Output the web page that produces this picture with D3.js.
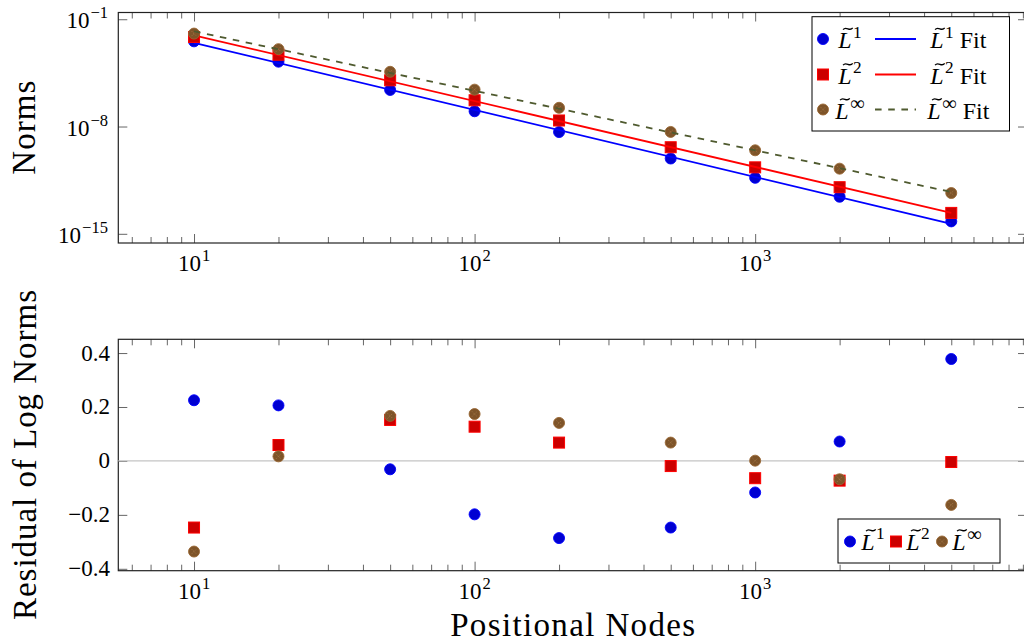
<!DOCTYPE html>
<html>
<head>
<meta charset="utf-8">
<script src="https://cdn.jsdelivr.net/npm/d3@7"></script>
<style>
  body { margin: 0; background: #fff; }
  svg, text, tspan { font-family: "Liberation Serif", "DejaVu Serif", serif; }
  text { fill: #000; }
</style>
</head>
<body>
<svg id="chart" width="1024" height="644" font-family="Liberation Serif, DejaVu Serif, serif"></svg>
<script>
// Number of positional nodes
const nodes = [10, 20, 50, 100, 200, 500, 1000, 2000, 5000];

// Error norms
const normL1   = [3.61e-3, 1.70e-4, 2.43e-6, 9.91e-8, 4.37e-9, 8.18e-11, 4.51e-12, 2.62e-13, 6.46e-15];
const normL2   = [6.97e-3, 4.82e-4, 1.04e-5, 5.16e-7, 2.48e-8, 4.45e-10, 2.17e-11, 1.10e-12, 2.31e-14];
const normLinf = [1.16e-2, 1.12e-3, 3.72e-5, 2.55e-6, 1.67e-7, 4.43e-9, 2.81e-10, 1.78e-11, 4.59e-13];

// Power-law fits: log10(norm) = intercept + slope * log10(N)   (L1, L2, Linf)
const fitSlopes     = [-4.377, -4.292, -3.882];
const fitIntercepts = [1.836, 2.241, 2.094];

// Residuals of the log norms about each fit
const residL1   = [0.225, 0.206, -0.031, -0.198, -0.286, -0.247, -0.117, 0.072, 0.378];
const residL2   = [-0.247, 0.059, 0.152, 0.127, 0.068, -0.019, -0.064, -0.073, -0.004];
const residLinf = [-0.336, 0.017, 0.167, 0.174, 0.141, 0.068, 0.001, -0.068, -0.163];

// Ticks
const xMajorTicks = [10, 100, 1000];
const xMinorTicks = [6, 7, 8, 9, 20, 30, 40, 50, 60, 70, 80, 90,
                     200, 300, 400, 500, 600, 700, 800, 900,
                     2000, 3000, 4000, 5000, 6000, 7000, 8000, 9000];
const xTickExponents = ["1", "2", "3"];
const normTicks = [1e-1, 1e-8, 1e-15];
const normTickExponents = ["\u22121", "\u22128", "\u221215"];
const residTicks = [-0.4, -0.2, 0, 0.2, 0.4];
const residTickLabels = ["\u22120.4", "\u22120.2", "0", "0.2", "0.4"];

const seriesSup = ["1", "2", "\u221E"];

// Styles
const markFill   = ["#0000d2", "#cc0000", "#7e5429"];
const markStroke = ["#0000ff", "#ff0000", "#996633"];
const fitColor   = ["#0000ff", "#ff0000", "#4f5a2f"];

const svg = d3.select("#chart");

const xLeft = 118.3, xRight = 1027;
const x = d3.scaleLog()
  .domain([Math.pow(10, 0.7301), Math.pow(10, 3.9689)])
  .range([xLeft, xRight]);

const topPanel = { top: 12.5, bottom: 243 };
const botPanel = { top: 339.3, bottom: 570.7 };

const yNorm = d3.scaleLog()
  .domain([Math.pow(10, -15.6), Math.pow(10, -0.56)])
  .range([topPanel.bottom, topPanel.top]);

const yRes = d3.scaleLinear()
  .domain([-0.407, 0.451])
  .range([botPanel.bottom, botPanel.top]);

const TICK_FS = 23;
const LEG_FS = 24;
const tickColor = "#555";

function styleTicks(sel) {
  sel.select(".domain").remove();
  sel.selectAll(".tick line").attr("stroke", tickColor).attr("stroke-width", 0.9);
  sel.selectAll(".tick text").remove();
}

function drawAxes(panel, yScale, yTickVals) {
  const g = svg.append("g");
  // x ticks, bottom and top, pointing inward
  g.append("g").attr("transform", `translate(0,${panel.bottom})`)
    .call(d3.axisBottom(x).tickValues(xMajorTicks).tickSize(-9).tickSizeOuter(0).tickFormat(""))
    .call(styleTicks);
  g.append("g").attr("transform", `translate(0,${panel.bottom})`)
    .call(d3.axisBottom(x).tickValues(xMinorTicks).tickSize(-6).tickSizeOuter(0).tickFormat(""))
    .call(styleTicks);
  g.append("g").attr("transform", `translate(0,${panel.top})`)
    .call(d3.axisTop(x).tickValues(xMajorTicks).tickSize(-9).tickSizeOuter(0).tickFormat(""))
    .call(styleTicks);
  g.append("g").attr("transform", `translate(0,${panel.top})`)
    .call(d3.axisTop(x).tickValues(xMinorTicks).tickSize(-6).tickSizeOuter(0).tickFormat(""))
    .call(styleTicks);
  // y ticks, left and right
  g.append("g").attr("transform", `translate(${xLeft},0)`)
    .call(d3.axisLeft(yScale).tickValues(yTickVals).tickSize(-9).tickSizeOuter(0).tickFormat(""))
    .call(styleTicks);
  g.append("g").attr("transform", `translate(${xRight},0)`)
    .call(d3.axisRight(yScale).tickValues(yTickVals).tickSize(-9).tickSizeOuter(0).tickFormat(""))
    .call(styleTicks);
  // frame
  g.append("rect")
    .attr("x", xLeft).attr("y", panel.top)
    .attr("width", xRight - xLeft).attr("height", panel.bottom - panel.top)
    .attr("fill", "none").attr("stroke", "#222").attr("stroke-width", 1.2);
  return g;
}

// "10^k" label
function powLabel(parent, px, py, exp, anchor) {
  const t = parent.append("text")
    .attr("x", px).attr("y", py)
    .attr("font-size", TICK_FS)
    .attr("text-anchor", anchor);
  t.append("tspan").text("10");
  t.append("tspan").attr("font-size", TICK_FS * 0.72).attr("dy", -TICK_FS * 0.43).attr("dx", 1).text(exp);
  return t;
}

// tilde-L with superscript, optional trailing text
function normLabel(parent, sup, fs, suffix) {
  const isInf = sup === "\u221E";
  const g = parent.append("g");
  const t = g.append("text").attr("font-size", fs);
  t.append("tspan").attr("font-style", "italic").text("L");
  t.append("tspan")
    .attr("font-size", fs * (isInf ? 0.85 : 0.72))
    .attr("dy", -fs * (isInf ? 0.34 : 0.42))
    .attr("dx", fs * 0.06).text(sup);
  if (suffix) {
    t.append("tspan").attr("dy", fs * (isInf ? 0.34 : 0.42)).text("\u00A0" + suffix);
  }
  // tilde accent drawn as a small wave above the L
  const cx = fs * 0.4, cy = -fs * 0.8, w = fs * 0.4, a = fs * 0.035;
  g.append("path")
    .attr("d", `M${cx - w / 2},${cy + a}C${cx - w / 6},${cy - 4 * a} ${cx + w / 6},${cy + 4 * a} ${cx + w / 2},${cy - a}`)
    .attr("fill", "none").attr("stroke", "#000").attr("stroke-width", 1.3);
  return g;
}

function placeCentered(g, cx, baseline) {
  const w = g.select("text").node().getBBox().width;
  g.attr("transform", `translate(${cx - w / 2},${baseline})`);
}

function drawMarker(parent, i, cx, cy) {
  if (i === 1) {
    parent.append("rect")
      .attr("x", cx - 5.5).attr("y", cy - 5.5).attr("width", 11).attr("height", 11)
      .attr("fill", markFill[1]).attr("stroke", markStroke[1]).attr("stroke-width", 1);
  } else {
    parent.append("circle")
      .attr("cx", cx).attr("cy", cy).attr("r", 5.5)
      .attr("fill", markFill[i]).attr("stroke", markStroke[i]).attr("stroke-width", 0.9);
    if (i === 2) {
      const d = 2.6;
      parent.append("path")
        .attr("d", `M${cx - d},${cy - d}L${cx + d},${cy + d}M${cx - d},${cy + d}L${cx + d},${cy - d}`)
        .attr("stroke", "#a77c4c").attr("stroke-width", 0.8).attr("stroke-dasharray", "1.2,1.4");
    }
  }
}

// ---------- Top panel: norms ----------
drawAxes(topPanel, yNorm, normTicks);

const norms = [normL1, normL2, normLinf];
const plotTop = svg.append("g");
norms.forEach((vals, i) => {
  vals.forEach((v, k) => drawMarker(plotTop, i, x(nodes[k]), yNorm(v)));
  const fitEnds = [nodes[0], nodes[nodes.length - 1]];
  const line = d3.line()
    .x(n => x(n))
    .y(n => yNorm(Math.pow(10, fitIntercepts[i] + fitSlopes[i] * Math.log10(n))));
  plotTop.append("path")
    .attr("d", line(fitEnds))
    .attr("fill", "none")
    .attr("stroke", fitColor[i])
    .attr("stroke-width", 1.8)
    .attr("stroke-dasharray", i === 2 ? "6.6,6.6" : null);
});

// tick labels
xMajorTicks.forEach((t, k) => powLabel(svg, x(t), 271, xTickExponents[k], "middle"));
normTicks.forEach((t, k) => powLabel(svg, 108, yNorm(t) + 9, normTickExponents[k], "end"));

// legend
const legTop = svg.append("g");
legTop.append("rect")
  .attr("x", 812).attr("y", 16.7).attr("width", 197.5).attr("height", 114.3)
  .attr("fill", "#fff").attr("stroke", "#000").attr("stroke-width", 1);
const rowBase = [48, 83.5, 118.5];
[0, 1, 2].forEach(i => {
  const cy = rowBase[i] - 9;
  drawMarker(legTop, i, 823, cy);
  placeCentered(normLabel(legTop, seriesSup[i], LEG_FS), 850.5, rowBase[i]);
  legTop.append("line")
    .attr("x1", 875).attr("x2", 916).attr("y1", cy).attr("y2", cy)
    .attr("stroke", fitColor[i]).attr("stroke-width", 1.8)
    .attr("stroke-dasharray", i === 2 ? "6.6,6.6" : null);
  placeCentered(normLabel(legTop, seriesSup[i], LEG_FS, "Fit"), 959, rowBase[i]);
});

svg.append("text")
  .attr("transform", `translate(35,${(topPanel.top + topPanel.bottom) / 2}) rotate(-90)`)
  .attr("text-anchor", "middle").attr("font-size", 33)
  .attr("textLength", 94).attr("lengthAdjust", "spacing")
  .text("Norms");

// ---------- Bottom panel: residuals ----------
drawAxes(botPanel, yRes, residTicks);

svg.append("line")
  .attr("x1", xLeft).attr("x2", xRight)
  .attr("y1", yRes(0)).attr("y2", yRes(0))
  .attr("stroke", "#c4c4c4").attr("stroke-width", 1.3);

const resids = [residL1, residL2, residLinf];
const plotBot = svg.append("g");
resids.forEach((vals, i) => {
  vals.forEach((v, k) => drawMarker(plotBot, i, x(nodes[k]), yRes(v)));
});

xMajorTicks.forEach((t, k) => powLabel(svg, x(t), 599, xTickExponents[k], "middle"));
residTicks.forEach((t, k) => {
  svg.append("text")
    .attr("x", 110).attr("y", yRes(t) + 7.5)
    .attr("font-size", TICK_FS).attr("text-anchor", "end")
    .text(residTickLabels[k]);
});

// legend
const legBot = svg.append("g");
legBot.append("rect")
  .attr("x", 838).attr("y", 519).attr("width", 162).attr("height", 44)
  .attr("fill", "#fff").attr("stroke", "#000").attr("stroke-width", 1);
const legBotMarkX = [850, 896, 942];
const legBotTextX = [873.5, 918.5, 967.5];
[0, 1, 2].forEach(i => {
  drawMarker(legBot, i, legBotMarkX[i], 541.5);
  placeCentered(normLabel(legBot, seriesSup[i], LEG_FS), legBotTextX[i], 549.5);
});

svg.append("text")
  .attr("transform", `translate(36,${(botPanel.top + botPanel.bottom) / 2}) rotate(-90)`)
  .attr("text-anchor", "middle").attr("font-size", 33)
  .attr("textLength", 330).attr("lengthAdjust", "spacing")
  .text("Residual of Log Norms");

svg.append("text")
  .attr("x", (xLeft + xRight) / 2).attr("y", 636)
  .attr("text-anchor", "middle").attr("font-size", 33)
  .attr("textLength", 245).attr("lengthAdjust", "spacing")
  .text("Positional Nodes");
</script>
</body>
</html>
